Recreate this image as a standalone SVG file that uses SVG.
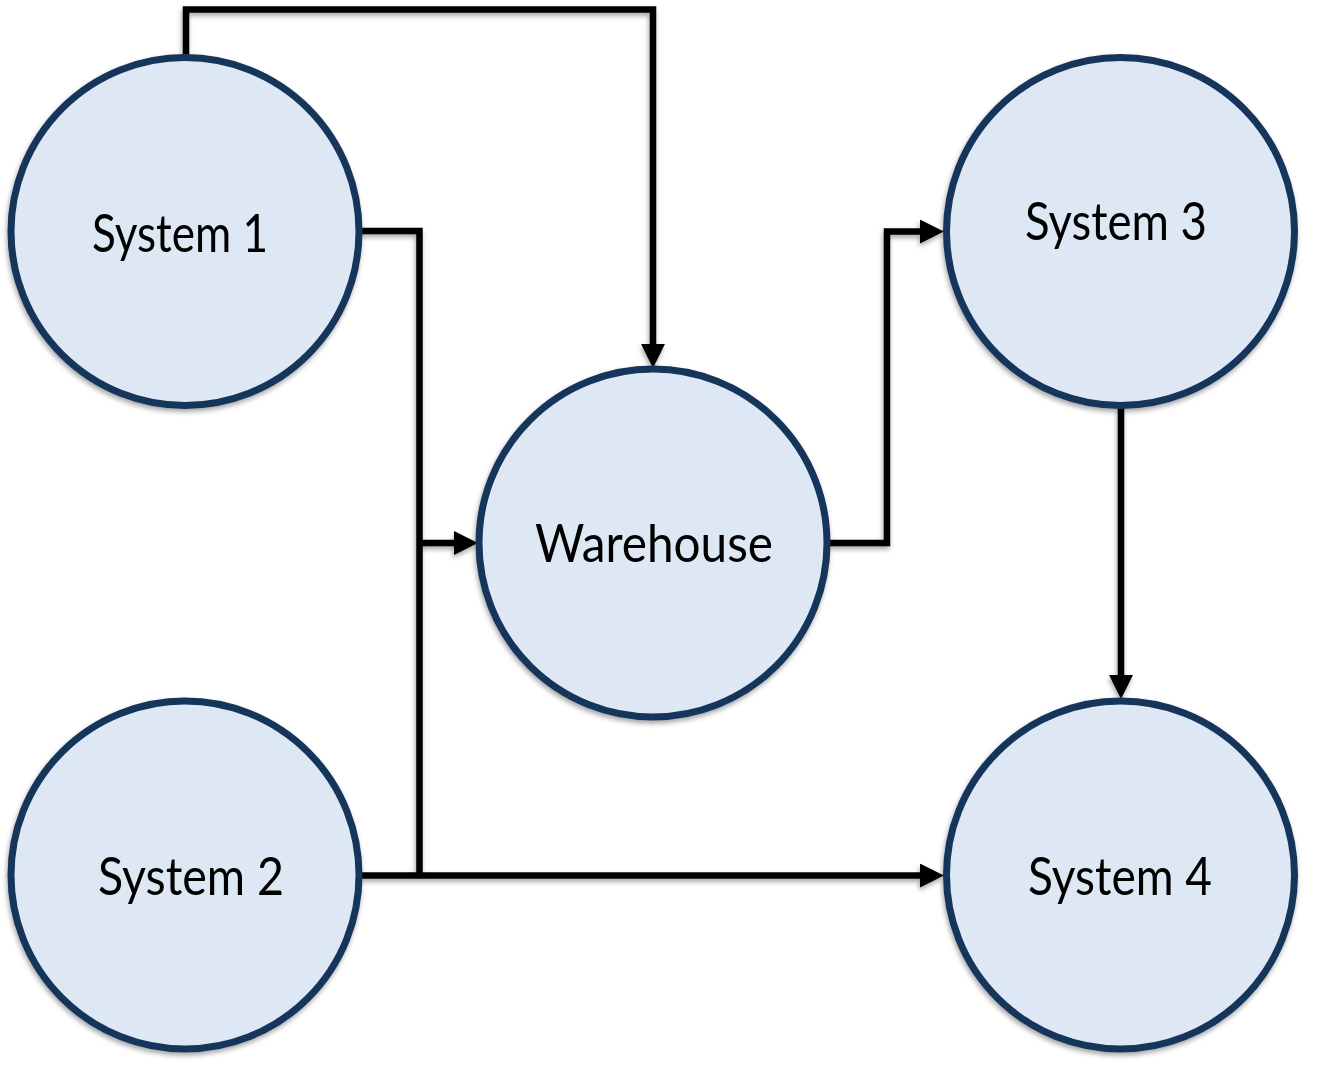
<svg xmlns="http://www.w3.org/2000/svg" width="1318" height="1072" viewBox="0 0 1318 1072">
<style>
.node circle{fill:#dde8f4;stroke:#17345a;stroke-width:7}
.node text{font-family:"Lato","Open Sans","Liberation Sans",sans-serif;font-size:52px;fill:#000;text-anchor:middle}
.conn path{fill:none;stroke:#000;stroke-width:6.5;stroke-linejoin:miter}
</style>
<defs>
<filter id="sh" x="-10%" y="-10%" width="120%" height="120%">
<feDropShadow dx="-1" dy="3" stdDeviation="2.5" flood-color="#000" flood-opacity="0.35"/>
</filter>
<marker id="ah" markerUnits="userSpaceOnUse" markerWidth="24" markerHeight="24" viewBox="0 0 22 22" refX="12" refY="11" orient="auto">
<path d="M0,0 L22,11 L0,22 z" fill="#000"/>
</marker>
</defs>
<g filter="url(#sh)">
<g id="connectors" class="conn">
<path d="M186,55 V9.5 H653 V357" marker-end="url(#ah)"/>
<path d="M362,231 H419.5 V878"/>
<path d="M419.5,543 H467" marker-end="url(#ah)"/>
<path d="M362,875.5 H933" marker-end="url(#ah)"/>
<path d="M830,543 H887 V231.5 H933" marker-end="url(#ah)"/>
<path d="M1121,408 V688" marker-end="url(#ah)"/>
</g>
<g id="system1" class="node"><circle cx="185" cy="231.5" r="174"/><text x="180" y="252" textLength="176" lengthAdjust="spacingAndGlyphs">System 1</text></g>
<g id="warehouse" class="node"><circle cx="653" cy="543" r="174"/><text x="654" y="562" textLength="238" lengthAdjust="spacingAndGlyphs">Warehouse</text></g>
<g id="system3" class="node"><circle cx="1120.5" cy="231.5" r="174"/><text x="1116" y="240" textLength="182" lengthAdjust="spacingAndGlyphs">System 3</text></g>
<g id="system2" class="node"><circle cx="185" cy="875" r="174"/><text x="191" y="895" textLength="186" lengthAdjust="spacingAndGlyphs">System 2</text></g>
<g id="system4" class="node"><circle cx="1120.5" cy="875" r="174"/><text x="1120" y="895" textLength="184" lengthAdjust="spacingAndGlyphs">System 4</text></g>
</g>
</svg>
